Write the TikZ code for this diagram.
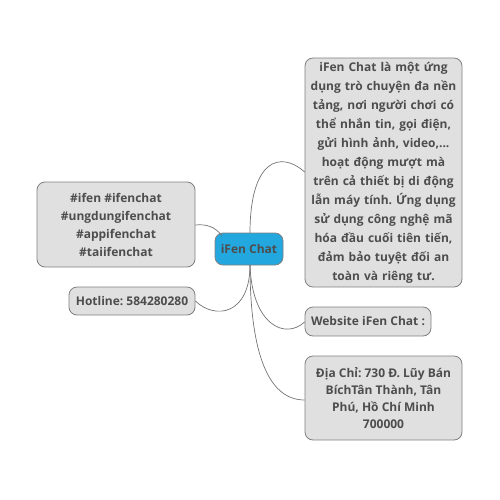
\documentclass[tikz,border=0pt]{standalone}
\usepackage{fontspec}
\setmainfont{Open Sans}
\definecolor{hubblue}{RGB}{34,167,223}
\definecolor{boxgray}{RGB}{224,224,224}
\definecolor{txtgray}{RGB}{77,77,77}
\frenchspacing
\begin{document}
\begin{tikzpicture}[x=1pt,y=-1pt,
  topic/.style={draw=black!50, line width=0.8pt, fill=boxgray, rounded corners=8pt,
    text=txtgray, font=\bfseries\fontsize{12}{19}\selectfont, align=center, inner sep=0pt},
  hub/.style={draw=black!50, line width=0.8pt, fill=hubblue, rounded corners=8pt,
    text=txtgray, font=\bfseries\fontsize{12}{19}\selectfont, inner sep=0pt},
  link/.style={draw=black!55, line width=0.7pt}]
\useasboundingbox (0,0) rectangle (500,500);
\node[hub, minimum width=68pt, minimum height=32pt] (c) at (249,249) {iFen Chat};
\node[topic, minimum width=157pt, minimum height=229pt, text width=152pt] (big) at (383.5,172.5)
 {iFen Chat là một ứng\\dụng trò chuyện đa nền\\tảng, nơi người chơi có\\thể nhắn tin, gọi điện,\\gửi hình ảnh, video,...\\hoạt động mượt mà\\trên cả thiết bị di động\\lẫn máy tính. Ứng dụng\\sử dụng công nghệ mã\\hóa đầu cuối tiên tiến,\\đảm bảo tuyệt đối an\\toàn và riêng tư.};
\node[topic, minimum width=158pt, minimum height=85pt, font=\bfseries\fontsize{12}{18}\selectfont] (tags) at (116,224.5)
 {\#ifen \#ifenchat\\\#ungdungifenchat\\\#appifenchat\\\#taiifenchat};
\node[topic, minimum width=126pt, minimum height=28pt] (hot) at (132,301) {Hotline: 584280280};
\node[topic, minimum width=126pt, minimum height=29pt] (web) at (368,321.5) {Website iFen Chat :};
\node[topic, minimum width=157pt, minimum height=84pt, font=\bfseries\fontsize{12}{17}\selectfont] (addr) at (383.5,398)
 {Địa Chỉ: 730 Đ. Lũy Bán\\BíchTân Thành, Tân\\Phú, Hồ Chí Minh\\700000};
\coordinate (ct) at (250,233);
\coordinate (cb) at (250,265);
\coordinate (cl) at (222,236);
\draw[link] (ct) .. controls (250,160) and (280,150) .. (big.west |- 0,172);
\draw[link] (cl) .. controls (215,226) and (205,224) .. (tags.east |- 0,225);
\draw[link] (cb) .. controls (250,315) and (215,320) .. (hot.east |- 0,301);
\draw[link] (cb) .. controls (252,325) and (285,340) .. (web.west |- 0,322);
\draw[link] (cb) .. controls (250,330) and (260,400) .. (addr.west |- 0,400);
\end{tikzpicture}
\end{document}
